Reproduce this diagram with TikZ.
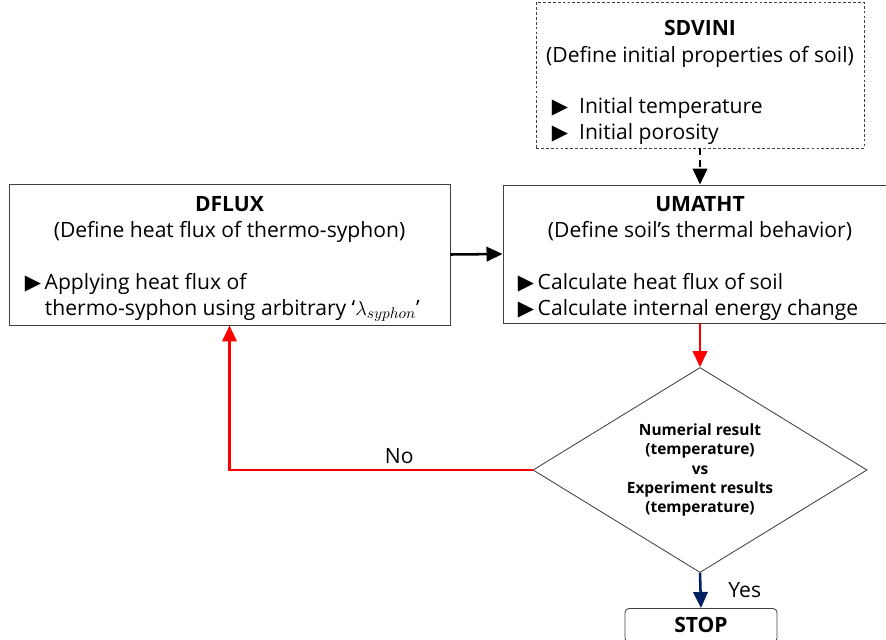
\documentclass[tikz,border=0pt]{standalone}
\usepackage{fontspec}
\setmainfont{Open Sans}
\newfontfamily\symfont{DejaVu Sans}
\usepackage{tikz}
\usetikzlibrary{arrows.meta}
\usetikzlibrary{shapes.geometric}
\definecolor{loopred}{RGB}{255,0,0}
\definecolor{yesblue}{RGB}{0,32,96}
\definecolor{edgegray}{RGB}{64,64,64}
\newcommand{\bul}{{\symfont\char"25B6}}

\begin{document}
\begin{tikzpicture}[x = .025cm, y = -.025cm,
                        box/.style={draw=edgegray, line width=.6pt},
                        dashbox/.style={box, dash pattern=on 2pt off 1.5pt},
                        title/.style={anchor=base, font=\fontsize{15}{18}\selectfont\bfseries},
                        sub/.style={anchor=base, font=\fontsize{15}{18}\selectfont},
                        item/.style={anchor=base west, font=\fontsize{15}{18}\selectfont},
                        flow/.style={line width=1.8pt, -{Triangle[length=4mm, width=3.6mm]}}]
      \useasboundingbox (0,0) rectangle (886,639);
      % boxes
      \node[dashbox, minimum width=8.2cm, minimum height=3.65cm] (sdvini) at (700,75) {};
      \node[box, minimum width=9.85cm, minimum height=3.45cm] (umatht) at (700,254) {};
      \node[box, minimum width=11.025cm, minimum height=3.525cm] (dflux) at (229.5,254.5) {};
      \node[box, diamond, aspect=1.63, minimum width=8.35cm, minimum height=5.125cm, inner sep=0pt,
            align=center, font=\fontsize{11}{13.8}\selectfont\bfseries] (cmp) at (700,470)
            {Numerial result\\(temperature)\\vs\\Experiment results\\(temperature)};
      \node[box, rounded corners=3pt, anchor=north, minimum width=3.8cm, minimum height=.85cm,
            inner sep=1pt, font=\fontsize{15}{18}\selectfont\bfseries] (stop) at (701,608) {STOP};
      % texts
      \node[title] (sdviniT) at (700,35) {SDVINI};
      \node[sub] (sdviniS) at (700,62) {(Define initial properties of soil)};
      \node[item] (sdviniA) at (547,113) {\bul\ \ Initial temperature};
      \node[item] (sdviniB) at (547,139) {\bul\ \ Initial porosity};
      \node[title] (umathtT) at (700,211) {UMATHT};
      \node[sub] (umathtS) at (700,237) {(Define soil’s thermal behavior)};
      \node[item] (umathtA) at (513,289) {\bul\,Calculate heat flux of soil};
      \node[item] (umathtB) at (513,315) {\bul\,Calculate internal energy change};
      \node[title] (dfluxT) at (229.5,211) {DFLUX};
      \node[sub] (dfluxS) at (229.5,237) {(Define heat flux of thermo-syphon)};
      \node[item] (dfluxA) at (20,289) {\bul\,Applying heat flux of};
      \node[item] (dfluxB) at (40,315) {thermo-syphon using arbitrary ‘$\lambda_{syphon}$’};
      % connectors
      \draw[flow, dash pattern=on 5pt off 3pt] (sdvini.south) -- (umatht.north);
      \draw[flow] (dflux.east) -- (umatht.west);
      \draw[flow, loopred] (umatht.south) -- (cmp.north);
      \draw[flow, loopred] (cmp.west) -| node[pos=.22, above, text=black,
            font=\fontsize{15}{18}\selectfont] (no) {No} (dflux.south);
      \draw[flow, yesblue] (cmp.south) -- node[right=.55cm, text=black,
            font=\fontsize{15}{18}\selectfont] (yes) {Yes} (stop.north);
    \end{tikzpicture}
\end{document}
